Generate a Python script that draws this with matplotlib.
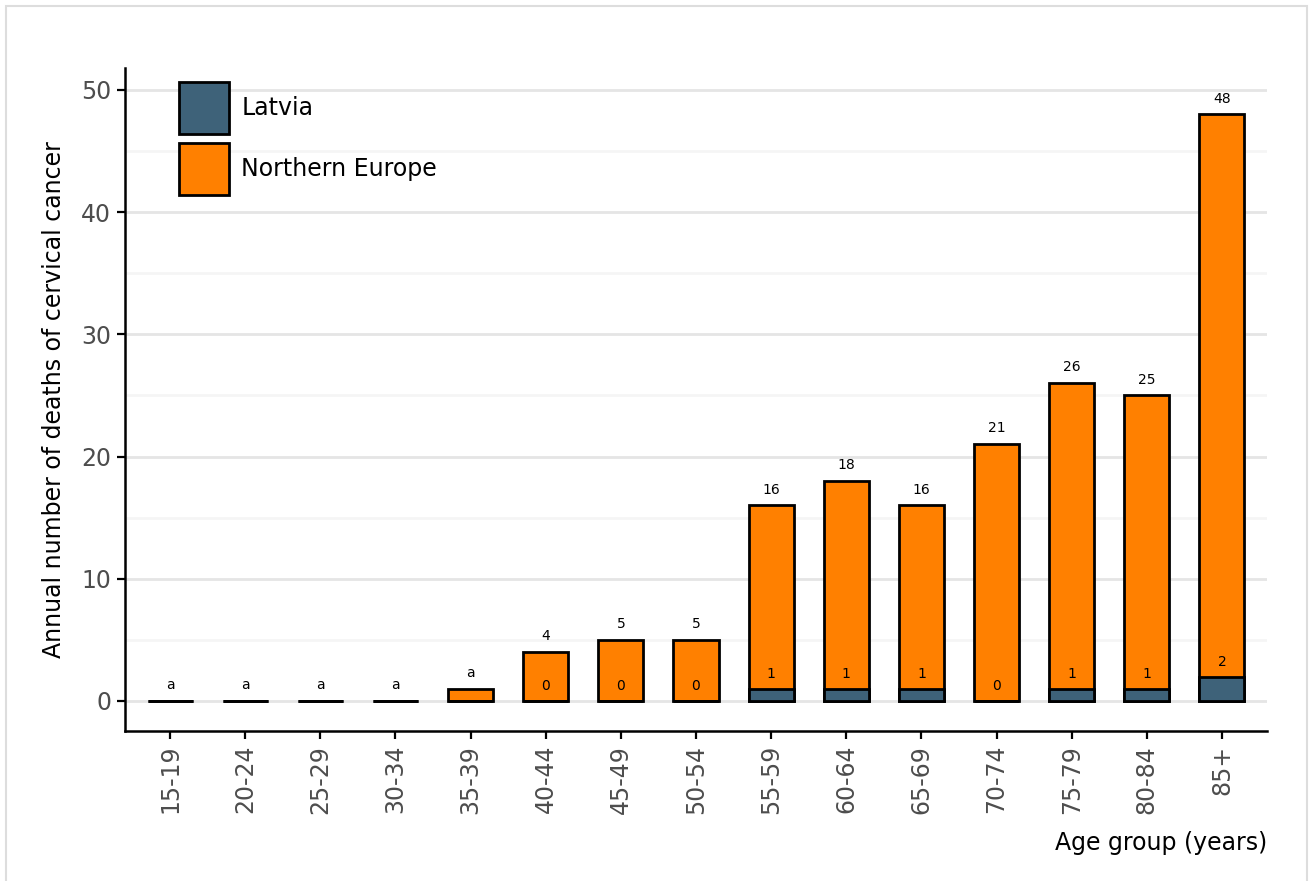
import numpy as np
import matplotlib
matplotlib.use("Agg")
import matplotlib.pyplot as plt
from matplotlib.patches import Patch, Rectangle

# data
age_groups = ["15-19", "20-24", "25-29", "30-34", "35-39", "40-44", "45-49", "50-54",
              "55-59", "60-64", "65-69", "70-74", "75-79", "80-84", "85+"]
northern_europe = [0, 0, 0, 0, 1, 4, 5, 5, 16, 18, 16, 21, 26, 25, 48]
latvia = [0, 0, 0, 0, 0, 0, 0, 0, 1, 1, 1, 0, 1, 1, 2]
top_labels = ["a", "a", "a", "a", "a", "4", "5", "5", "16", "18", "16", "21", "26", "25", "48"]
latvia_labels = ["", "", "", "", "", "0", "0", "0", "1", "1", "1", "0", "1", "1", "2"]

C_LV = "#3e6279"
C_NE = "#ff8000"
GREY = "#4d4d4d"
FS = 17

fig = plt.figure(figsize=(13.09, 8.81), dpi=100)
ax = fig.add_axes([125 / 1309, 1 - 731 / 881, (1267 - 125) / 1309, (731 - 68) / 881])

# light frame around the figure
fig.patches.append(Rectangle((6 / 1309, -0.05), (1307 - 6) / 1309, 1.05 - 6 / 881,
                             transform=fig.transFigure, fill=False,
                             edgecolor="#dddddd", lw=1.5, clip_on=False))

pos = np.arange(len(age_groups))
ax.bar(pos, northern_europe, 0.6, color=C_NE, edgecolor="black", linewidth=2, zorder=3)
ax.bar(pos, latvia, 0.6, color=C_LV, edgecolor="black", linewidth=2, zorder=4)

for p in pos:
    ax.text(p, northern_europe[p] + 1.3, top_labels[p], ha="center", va="center",
            fontsize=10, zorder=5)
    if latvia_labels[p]:
        ax.text(p, latvia[p] + 1.2, latvia_labels[p], ha="center", va="center",
                fontsize=10, zorder=5)

ax.set_xlim(-0.6, 14.6)
ax.set_ylim(-2.455, 51.8)
ax.set_yticks(np.arange(0, 51, 10))
ax.set_yticks(np.arange(5, 50, 10), minor=True)
ax.grid(axis="y", which="major", color="#e5e5e5", lw=2, zorder=0)
ax.grid(axis="y", which="minor", color="#f5f5f5", lw=2, zorder=0)
ax.set_axisbelow(True)

ax.set_xticks(pos)
ax.set_xticklabels(age_groups, rotation=90)
ax.tick_params(axis="both", which="major", length=6, width=1.6, labelsize=FS,
               labelcolor=GREY, color="black", pad=4)
ax.tick_params(axis="y", which="minor", length=0)

for s in ["top", "right"]:
    ax.spines[s].set_visible(False)
for s in ["left", "bottom"]:
    ax.spines[s].set_linewidth(1.8)

ax.set_ylabel("Annual number of deaths of cervical cancer", fontsize=FS, labelpad=11)
ax.set_xlabel("Age group (years)", fontsize=FS, loc="right", labelpad=12)

handles = [Patch(facecolor=C_LV, edgecolor="black", lw=2, label="Latvia"),
           Patch(facecolor=C_NE, edgecolor="black", lw=2, label="Northern Europe")]
ax.legend(handles=handles, loc="upper left", bbox_to_anchor=(0.047, 0.979),
          frameon=False, fontsize=FS, borderpad=0, borderaxespad=0,
          handlelength=2.15, handleheight=3.0, handletextpad=0.5, labelspacing=0.4)

fig.savefig("out.png", dpi=100)
